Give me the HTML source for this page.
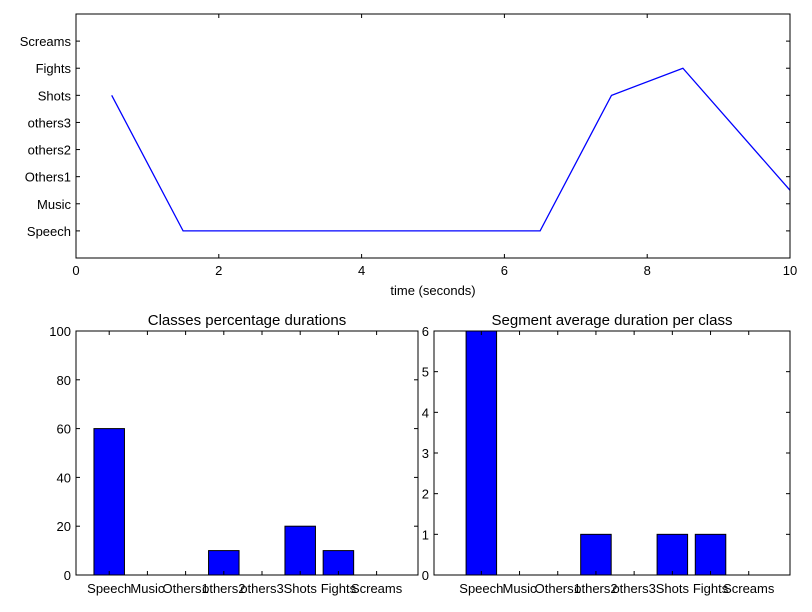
<!DOCTYPE html>
<html><head><meta charset="utf-8"><style>
body{margin:0;background:#fff;}
svg{display:block;font-family:"Liberation Sans",sans-serif;}
</style></head><body>
<svg id="chart" width="812" height="612"></svg>
<script>
const classNames=["Speech","Music","Others1","others2","others3","Shots","Fights","Screams"];
const timeX=[0.5,1.5,6.5,7.5,8.5,10.5];
const timeClass=[5,0,0,5,6,0];
const xTicks=[0,2,4,6,8,10];
const pctValues=[60,0,0,10,0,20,10,0];
const pctTicks=[0,20,40,60,80,100];
const avgValues=[6,0,0,1,0,1,1,0];
const avgTicks=[0,1,2,3,4,5,6];
const NS="http://www.w3.org/2000/svg";
const svg=document.getElementById('chart');
function mk(tag,attrs,parent){const e=document.createElementNS(NS,tag);for(const k in attrs)e.setAttribute(k,attrs[k]);(parent||svg).appendChild(e);return e;}
function txt(s,x,y,anchor,size,parent){const t=mk('text',{x:x,y:y,'text-anchor':anchor,'font-size':size,fill:'#000'},parent);t.textContent=s;return t;}

// Top plot
const T={l:76,r:790,t:14,b:258};
const tx=v=>T.l+(v-0)/(10-0)*(T.r-T.l);
const ty=v=>T.b-(v-(-1))/(8-(-1))*(T.b-T.t);
const topG=mk('g',{});


const cp=mk('clipPath',{id:'clipTop'},topG);
mk('rect',{x:T.l,y:T.t,width:T.r-T.l,height:T.b-T.t},cp);
let d=timeX.map((x,i)=>(i?'L':'M')+tx(x)+','+ty(timeClass[i])).join('');
const line=mk('path',{d:d,fill:'none',stroke:'#0000ff','stroke-width':1.3,'clip-path':'url(#clipTop)'},topG);


xTicks.forEach(v=>{const x=tx(v);mk('line',{x1:x,x2:x,y1:T.b,y2:T.b-4,stroke:'#000'},topG);mk('line',{x1:x,x2:x,y1:T.t,y2:T.t+4,stroke:'#000'},topG);txt(String(v),x,T.b+17,'middle',13,topG);});
classNames.forEach((c,i)=>{const y=ty(i);mk('line',{x1:T.l,x2:T.l+4,y1:y,y2:y,stroke:'#000'},topG);mk('line',{x1:T.r,x2:T.r-4,y1:y,y2:y,stroke:'#000'},topG);txt(c,T.l-5,y+5,'end',13,topG);});
mk('rect',{x:T.l,y:T.t,width:T.r-T.l,height:T.b-T.t,fill:'none',stroke:'#000','stroke-width':1},topG);
const xl=txt('time (seconds)',433,295,'middle',13,topG);



function barChart(A,values,ticks,ymax,title,name){
  const g=mk('g',{});
  
  
  const sx=v=>A.l+(v-A.x0)*38.2;
  const sy=v=>A.b-v/ymax*(A.b-A.t);
  values.forEach((v,i)=>{
    const r=mk('rect',{x:sx(i),y:sy(v),width:30.5,height:sy(0)-sy(v),fill:'#0000ff',stroke:'#000','stroke-width':1},g);
    
    
    const cx=sx(i)+15.25;
    mk('line',{x1:cx,x2:cx,y1:A.b,y2:A.b-4,stroke:'#000'},g);
    mk('line',{x1:cx,x2:cx,y1:A.t,y2:A.t+4,stroke:'#000'},g);
    txt(classNames[i],cx,A.b+18,'middle',13,g);
  });
  ticks.forEach(v=>{const y=sy(v);mk('line',{x1:A.l,x2:A.l+4,y1:y,y2:y,stroke:'#000'},g);mk('line',{x1:A.r,x2:A.r-4,y1:y,y2:y,stroke:'#000'},g);txt(String(v),A.l-5,y+5,'end',13,g);});
  mk('rect',{x:A.l,y:A.t,width:A.r-A.l,height:A.b-A.t,fill:'none',stroke:'#000'},g);
  const t=txt(title,(A.l+A.r)/2,A.t-6,'middle',15,g);
  
  
}
barChart({l:76,r:418,t:331,b:575,x0:-0.47},pctValues,pctTicks,100,'Classes percentage durations','percentage-bar-chart');
barChart({l:434,r:790,t:331,b:575,x0:-0.84},avgValues,avgTicks,6,'Segment average duration per class','average-duration-bar-chart');
</script>
</body></html>
